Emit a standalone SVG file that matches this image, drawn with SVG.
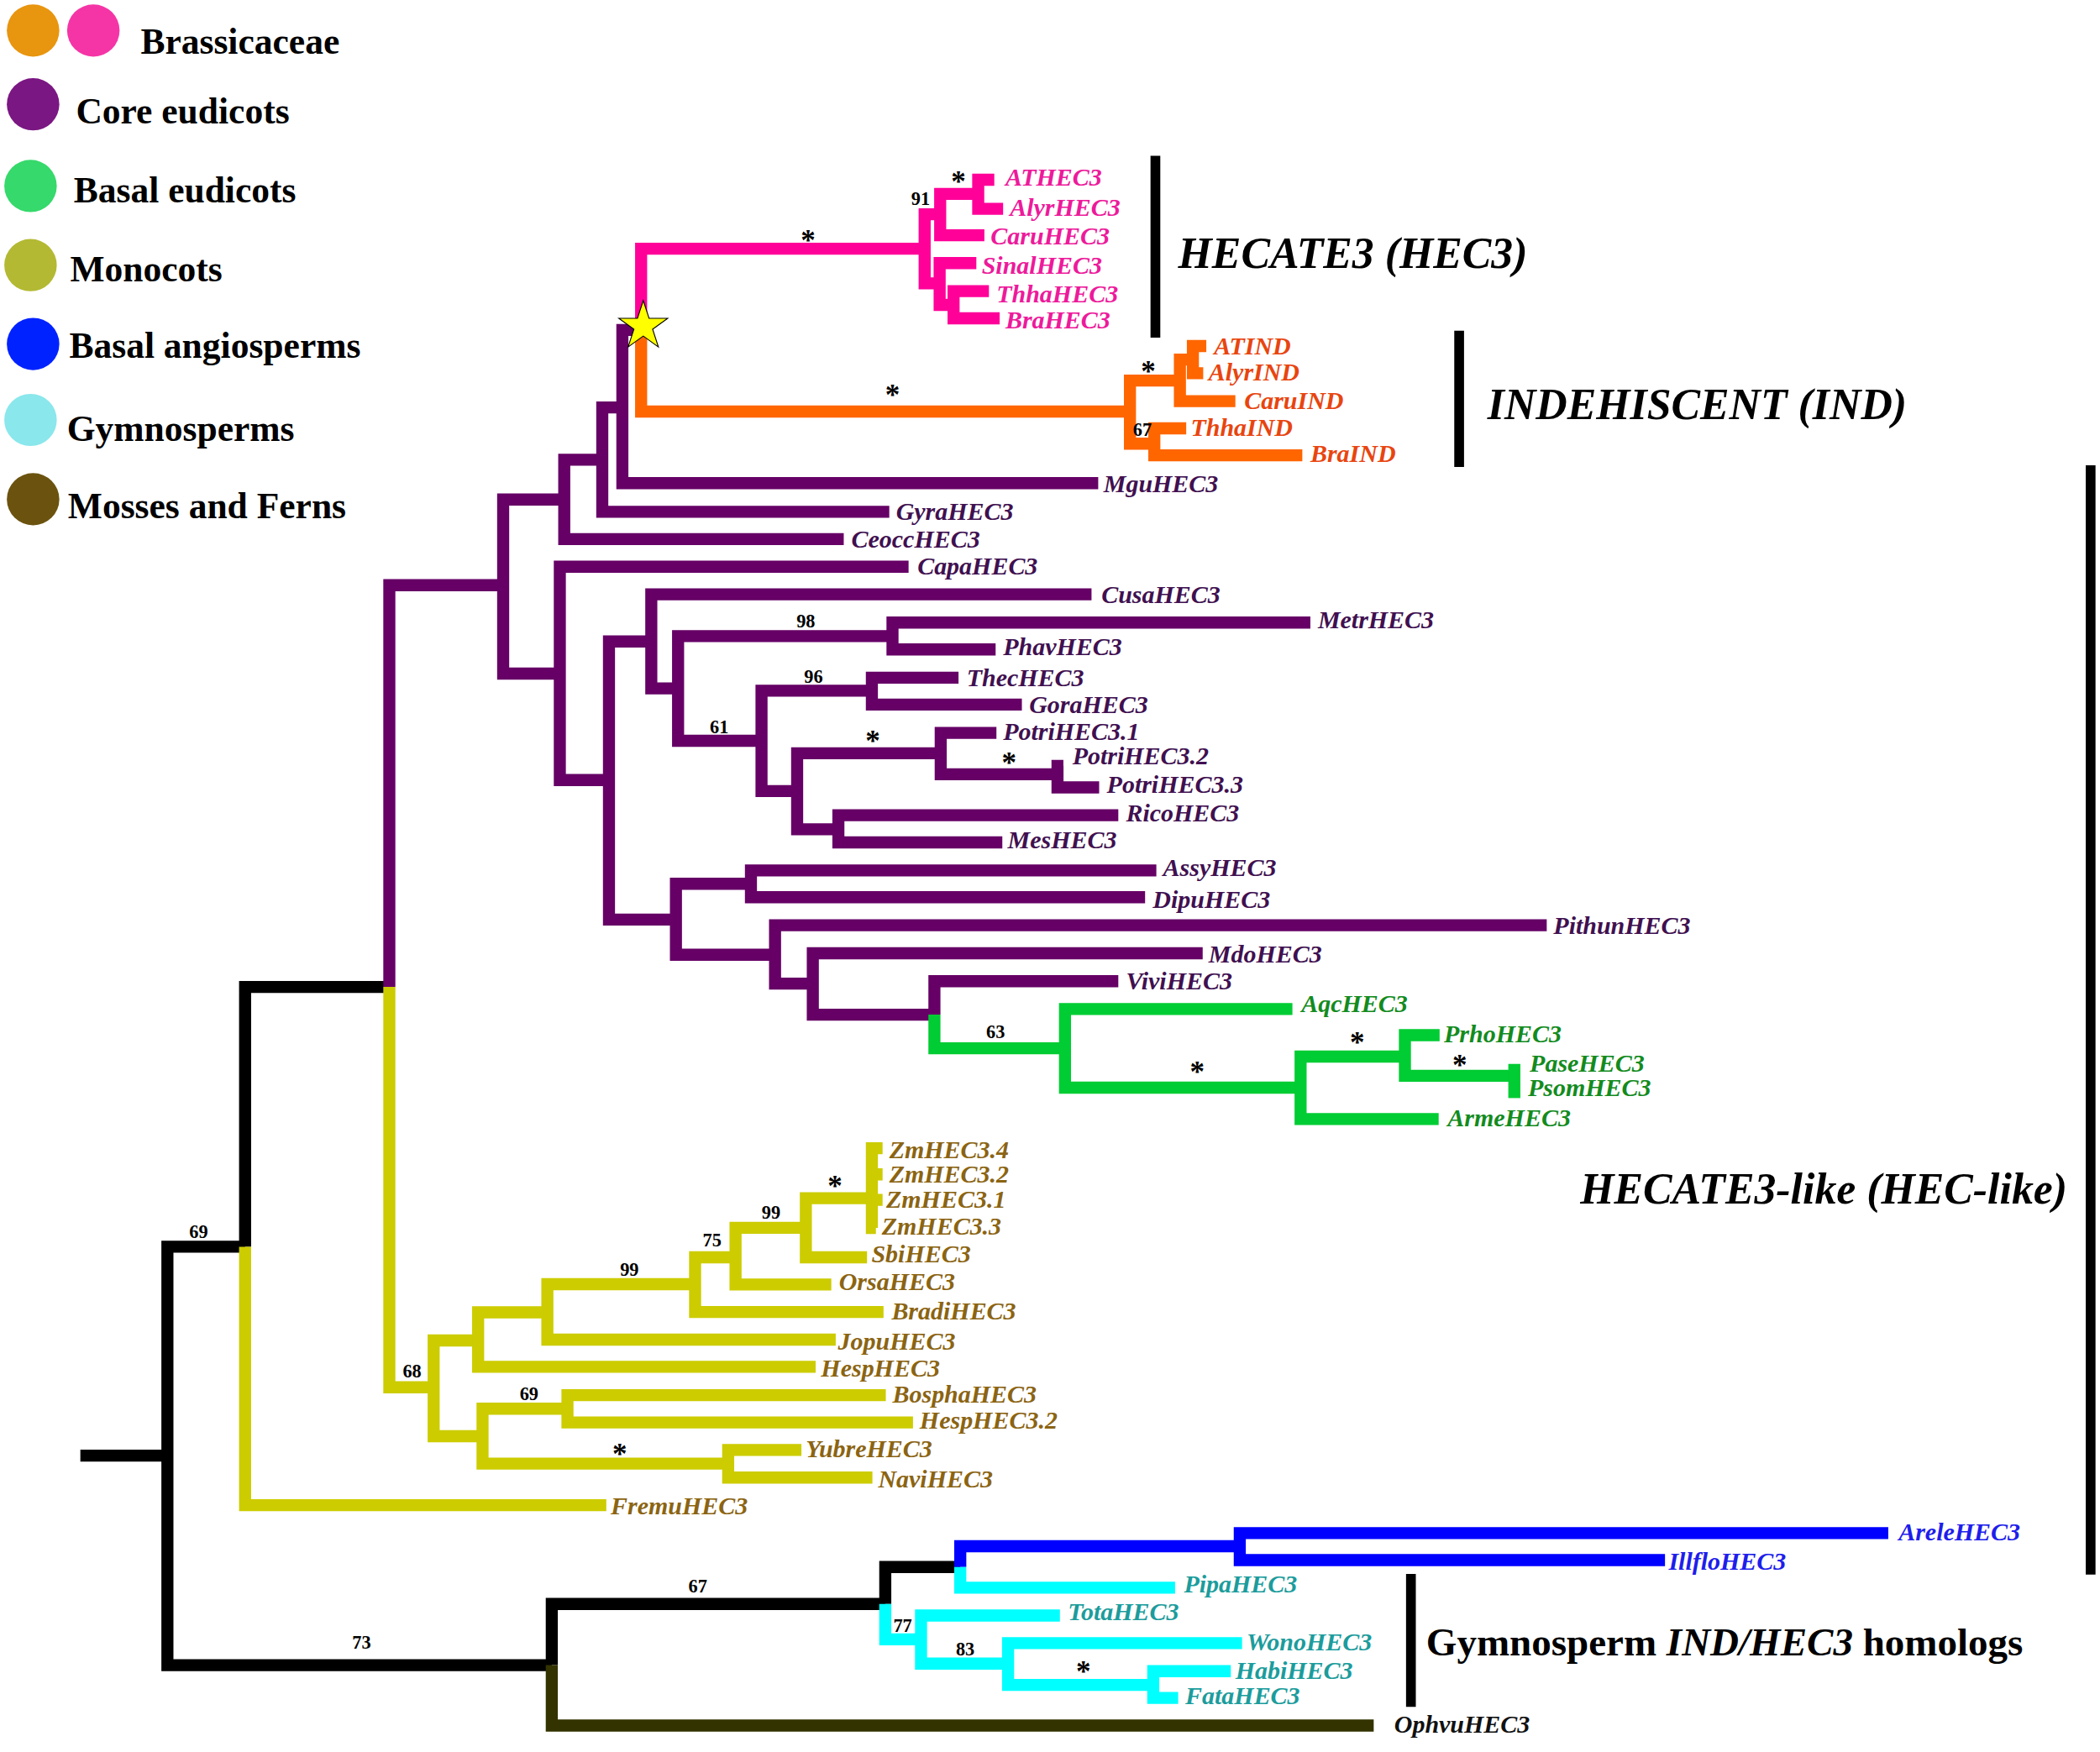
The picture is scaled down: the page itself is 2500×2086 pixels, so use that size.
<svg xmlns="http://www.w3.org/2000/svg" width="2500" height="2086" viewBox="0 0 2500 2086">
<style>
.b{fill:none;stroke-width:9;stroke-linejoin:miter;stroke-linecap:butt}
.pk{stroke:#FF0099}.or{stroke:#FF6600}.pu{stroke:#660066}.gr{stroke:#00CC33}.ol{stroke:#CCCC00}.bl{stroke:#0000FF}.cy{stroke:#00FFFF}.bk{stroke:#000}.br{stroke:#333300}
.br2{fill:none;stroke:#000;stroke-width:7.3}
text{font-family:"Liberation Serif","Times New Roman",serif;font-weight:bold}
.t{font-style:italic;font-size:18.8px}
.tpk{fill:#ED1A9B}.tor{fill:#E8450F}.tpu{fill:#401050}.tgr{fill:#138B1E}.tbr{fill:#8B6412}.tbl{fill:#1E1EEB}.tcy{fill:#1C9C9C}.tbk{fill:#111}
.s{font-size:14px;text-anchor:middle;fill:#000}
.a{font-size:22px;text-anchor:middle;fill:#000}
.lg{font-size:27.3px;fill:#000}
.cl{font-size:32.5px;font-style:italic;fill:#000}
</style>
<rect width="2500" height="2086" fill="#fff"/>
<g transform="scale(1.594388)">
<g id="legend">
<g id="leg-brassicaceae"><ellipse cx="24.7" cy="22.8" rx="19.6" ry="19.5" fill="#E8950F"/><ellipse cx="69.7" cy="22.8" rx="19.6" ry="19.5" fill="#F535A6"/><text class="lg" x="105" y="40.4">Brassicaceae</text></g>
<g id="leg-core"><ellipse cx="24.7" cy="77.9" rx="19.6" ry="19.5" fill="#7A1782"/><text class="lg" x="56.7" y="92.4">Core eudicots</text></g>
<g id="leg-basal-eud"><ellipse cx="22.8" cy="138.9" rx="19.6" ry="19.5" fill="#36D96B"/><text class="lg" x="55" y="150.9">Basal eudicots</text></g>
<g id="leg-mono"><ellipse cx="22.8" cy="198" rx="19.6" ry="19.5" fill="#B3B933"/><text class="lg" x="52.3" y="210.2">Monocots</text></g>
<g id="leg-basal-ang"><ellipse cx="24.7" cy="256.9" rx="19.6" ry="19.5" fill="#0022FF"/><text class="lg" x="51.7" y="267.3">Basal angiosperms</text></g>
<g id="leg-gymno"><ellipse cx="22.8" cy="313.6" rx="19.6" ry="19.5" fill="#8AE7EC"/><text class="lg" x="50" y="329.3">Gymnosperms</text></g>
<g id="leg-moss"><ellipse cx="24.7" cy="372.8" rx="19.6" ry="19.5" fill="#6B530F"/><text class="lg" x="50.7" y="387">Mosses and Ferns</text></g>
</g>
<g id="connectors">
<path class="b bk" d="M60 1087 H125"/>
<path class="b bk" d="M183 931 H125 V1243.5 H412"/>
<path class="b bk" d="M290.7 737 H183 V931"/>
<path class="b ol" d="M183 931 V1124 H452.7"/>
<path class="b pu" d="M375.7 437 H290.7 V737"/>
<path class="b ol" d="M290.7 737 V1036 H323.8"/>
<path class="b pu" d="M421.3 373 H375.7 V503 H418"/>
<path class="b pu" d="M449.7 343.3 H421.3 V402.6 H630"/>
<path class="b pu" d="M464.7 304.3 H449.7 V382.2 H664"/>
<path class="b pu" d="M478.7 246.4 H464.7 V360.8 H820"/>
<path class="b pk" d="M690.4 185.7 H478.7 V246.4"/>
<path class="b or" d="M478.7 246.4 V307.3 H843.7"/>
<path class="b pk" d="M702 160 H690.4 V211.6 H701.6"/>
<path class="b pk" d="M730.4 144.8 H702 V175.7 H735"/>
<path class="b pk" d="M742.4 134.2 H730.4 V155.9 H749"/>
<path class="b pk" d="M729 196.5 H701.6 V227.7 H712"/>
<path class="b pk" d="M738.4 217.4 H712 V237.7 H746.4"/>
<path class="b or" d="M881 284.2 H843.7 V331.3 H861.9"/>
<path class="b or" d="M890.7 268.5 H881 V299.6 H922.4"/>
<path class="b or" d="M900.7 258.4 H890.7 V278.7 H898.4"/>
<path class="b or" d="M885.7 319.9 H861.9 V340 H972.4"/>
<path class="b pu" d="M678.4 423.2 H418 V582.5 H454.7"/>
<path class="b pu" d="M486.3 479 H454.7 V686.7 H504.7"/>
<path class="b pu" d="M815 443.8 H486.3 V514.1 H506.3"/>
<path class="b pu" d="M666.4 475 H506.3 V553.2 H568.6"/>
<path class="b pu" d="M978.4 464.9 H666.4 V485 H743.4"/>
<path class="b pu" d="M651 515.8 H568.6 V590.7 H595.2"/>
<path class="b pu" d="M715.7 506.1 H651 V526.1 H763"/>
<path class="b pu" d="M702.4 562.5 H595.2 V619.3 H626"/>
<path class="b pu" d="M744 547.3 H702.4 V578.2 H789.6"/>
<path class="b pu" d="M794 572 H789.6 V588 H820.7"/>
<path class="b pu" d="M835 608.8 H626 V629.1 H748.4"/>
<path class="b pu" d="M560.7 660 H504.7 V713 H578.7"/>
<path class="b pu" d="M863.4 650 H560.7 V670 H855"/>
<path class="b pu" d="M1154.9 690.9 H578.7 V734.5 H606.9"/>
<path class="b pu" d="M898 711.9 H606.9 V757.7 H697.7"/>
<path class="b pu" d="M835 732.7 H697.7 V757.7"/>
<path class="b gr" d="M697.7 757.7 V782.8 H795.2"/>
<path class="b gr" d="M965 753.5 H795.2 V812.2 H971.1"/>
<path class="b gr" d="M1049 789 H971.1 V835.7 H1074.2"/>
<path class="b gr" d="M1074.9 773 H1049 V803.4 H1130"/>
<path class="b gr" d="M1130.7 794.5 V820"/>
<path class="b ol" d="M357 1001 H323.8 V1072.5 H360.3"/>
<path class="b ol" d="M408.7 980 H357 V1020.7 H609"/>
<path class="b ol" d="M519 959 H408.7 V1000.4 H624"/>
<path class="b ol" d="M549.2 938.9 H519 V979.8 H659.7"/>
<path class="b ol" d="M601.7 916.9 H549.2 V959.2 H620.7"/>
<path class="b ol" d="M650.7 894.8 H601.7 V938.9 H647.4"/>
<path class="b ol" d="M659 857.5 H651 V917 H654"/>
<path class="b ol" d="M651 877 H659 M651 896 H659"/>
<path class="b ol" d="M423.7 1052 H360.3 V1093 H543.7"/>
<path class="b ol" d="M661.4 1041.9 H423.7 V1062.2 H681.7"/>
<path class="b ol" d="M598.4 1082.8 H543.7 V1103.4 H651.4"/>
<path class="b bk" d="M661 1197.8 H412 V1243.5"/>
<path class="b br" d="M412 1243.5 V1288.6 H1025.7"/>
<path class="b bk" d="M717 1170.2 H661 V1197.8"/>
<path class="b cy" d="M661 1197.8 V1224.2 H687.7"/>
<path class="b bl" d="M925.7 1154.7 H717 V1170.2"/>
<path class="b cy" d="M717 1170.2 V1185.6 H877.4"/>
<path class="b bl" d="M1409.9 1144.9 H925.7 V1165 H1243.2"/>
<path class="b cy" d="M791.4 1206.4 H687.7 V1242.3 H752.7"/>
<path class="b cy" d="M927.4 1227 H752.7 V1258.2 H861.1"/>
<path class="b cy" d="M919 1248 H861.1 V1268 H879.7"/>
</g>
<g id="star"><polygon points="480.3,224.4 484.61,237.66 498.56,237.67 487.28,245.87 491.59,259.13 480.3,250.94 469.01,259.13 473.32,245.87 462.04,237.67 475.99,237.66" fill="#FFFF00" stroke="#000" stroke-width="0.7"/></g>
<g id="support">
<text class="a" x="603.4" y="186.6">*</text>
<text class="a" x="715.7" y="142.8">*</text>
<text class="s" x="687.4" y="153">91</text>
<text class="a" x="666.4" y="302.1">*</text>
<text class="a" x="857.4" y="284.8">*</text>
<text class="s" x="853" y="325.7">67</text>
<text class="s" x="601.7" y="468.7">98</text>
<text class="s" x="607.4" y="509.7">96</text>
<text class="s" x="537" y="547.3">61</text>
<text class="a" x="651.7" y="560.6">*</text>
<text class="a" x="753.4" y="577.1">*</text>
<text class="s" x="743.4" y="775">63</text>
<text class="a" x="894" y="808.1">*</text>
<text class="a" x="1013.4" y="786.1">*</text>
<text class="a" x="1089.9" y="802.9">*</text>
<text class="a" x="623.4" y="893.1">*</text>
<text class="s" x="575.7" y="910.2">99</text>
<text class="s" x="531.7" y="930.8">75</text>
<text class="s" x="470" y="953">99</text>
<text class="s" x="148.3" y="924.7">69</text>
<text class="s" x="307.7" y="1028.3">68</text>
<text class="s" x="395" y="1045.8">69</text>
<text class="a" x="462.7" y="1093.1">*</text>
<text class="s" x="521" y="1189.2">67</text>
<text class="s" x="270" y="1231">73</text>
<text class="s" x="674" y="1218.4">77</text>
<text class="s" x="720.7" y="1236.5">83</text>
<text class="a" x="809" y="1255.5">*</text>
</g>
<g id="tips">
<g id="ATHEC3"><text class="t tpk" x="750.7" y="138.6">ATHEC3</text></g>
<g id="AlyrHEC3"><text class="t tpk" x="754" y="160.9">AlyrHEC3</text></g>
<g id="CaruHEC3"><text class="t tpk" x="739.7" y="182.3">CaruHEC3</text></g>
<g id="SinalHEC3"><text class="t tpk" x="733" y="204.6">SinalHEC3</text></g>
<g id="ThhaHEC3"><text class="t tpk" x="744" y="225.5">ThhaHEC3</text></g>
<g id="BraHEC3"><text class="t tpk" x="750.7" y="245">BraHEC3</text></g>
<g id="ATIND"><text class="t tor" x="906.4" y="264.5">ATIND</text></g>
<g id="AlyrIND"><text class="t tor" x="902.4" y="284">AlyrIND</text></g>
<g id="CaruIND"><text class="t tor" x="929" y="305.7">CaruIND</text></g>
<g id="ThhaIND"><text class="t tor" x="889" y="325.7">ThhaIND</text></g>
<g id="BraIND"><text class="t tor" x="978.4" y="345.2">BraIND</text></g>
<g id="MguHEC3"><text class="t tpu" x="824" y="367.5">MguHEC3</text></g>
<g id="GyraHEC3"><text class="t tpu" x="669" y="388.4">GyraHEC3</text></g>
<g id="CeoccHEC3"><text class="t tpu" x="635.7" y="408.7">CeoccHEC3</text></g>
<g id="CapaHEC3"><text class="t tpu" x="685" y="428.7">CapaHEC3</text></g>
<g id="CusaHEC3"><text class="t tpu" x="822.4" y="450.4">CusaHEC3</text></g>
<g id="MetrHEC3"><text class="t tpu" x="984" y="469.3">MetrHEC3</text></g>
<g id="PhavHEC3"><text class="t tpu" x="749" y="489.4">PhavHEC3</text></g>
<g id="ThecHEC3"><text class="t tpu" x="721.7" y="512.5">ThecHEC3</text></g>
<g id="GoraHEC3"><text class="t tpu" x="768.4" y="532.8">GoraHEC3</text></g>
<g id="PotriHEC3.1"><text class="t tpu" x="749" y="552.8">PotriHEC3.1</text></g>
<g id="PotriHEC3.2"><text class="t tpu" x="800.7" y="570.9">PotriHEC3.2</text></g>
<g id="PotriHEC3.3"><text class="t tpu" x="826.4" y="591.8">PotriHEC3.3</text></g>
<g id="RicoHEC3"><text class="t tpu" x="840.7" y="613.5">RicoHEC3</text></g>
<g id="MesHEC3"><text class="t tpu" x="752.4" y="633.6">MesHEC3</text></g>
<g id="AssyHEC3"><text class="t tpu" x="868.4" y="654.4">AssyHEC3</text></g>
<g id="DipuHEC3"><text class="t tpu" x="860.7" y="678.1">DipuHEC3</text></g>
<g id="PithunHEC3"><text class="t tpu" x="1159.9" y="697.6">PithunHEC3</text></g>
<g id="MdoHEC3"><text class="t tpu" x="902.4" y="718.5">MdoHEC3</text></g>
<g id="ViviHEC3"><text class="t tpu" x="840.7" y="738.8">ViviHEC3</text></g>
<g id="AqcHEC3"><text class="t tgr" x="971.7" y="755.5">AqcHEC3</text></g>
<g id="PrhoHEC3"><text class="t tgr" x="1078.2" y="778.3">PrhoHEC3</text></g>
<g id="PaseHEC3"><text class="t tgr" x="1142.2" y="800.6">PaseHEC3</text></g>
<g id="PsomHEC3"><text class="t tgr" x="1140.9" y="818.7">PsomHEC3</text></g>
<g id="ArmeHEC3"><text class="t tgr" x="1080.9" y="841">ArmeHEC3</text></g>
<g id="ZmHEC3.4"><text class="t tbr" x="664" y="864.6">ZmHEC3.4</text></g>
<g id="ZmHEC3.2"><text class="t tbr" x="664" y="883">ZmHEC3.2</text></g>
<g id="ZmHEC3.1"><text class="t tbr" x="661.7" y="901.9">ZmHEC3.1</text></g>
<g id="ZmHEC3.3"><text class="t tbr" x="658.4" y="921.9">ZmHEC3.3</text></g>
<g id="SbiHEC3"><text class="t tbr" x="650.7" y="942.8">SbiHEC3</text></g>
<g id="OrsaHEC3"><text class="t tbr" x="626.4" y="963.1">OrsaHEC3</text></g>
<g id="BradiHEC3"><text class="t tbr" x="665.7" y="985.4">BradiHEC3</text></g>
<g id="JopuHEC3"><text class="t tbr" x="625.7" y="1007.7">JopuHEC3</text></g>
<g id="HespHEC3"><text class="t tbr" x="613" y="1027.7">HespHEC3</text></g>
<g id="BosphaHEC3"><text class="t tbr" x="666.4" y="1047.7">BosphaHEC3</text></g>
<g id="HespHEC3.2"><text class="t tbr" x="686.7" y="1066.7">HespHEC3.2</text></g>
<g id="YubreHEC3"><text class="t tbr" x="601.7" y="1088.4">YubreHEC3</text></g>
<g id="NaviHEC3"><text class="t tbr" x="655.7" y="1110.7">NaviHEC3</text></g>
<g id="FremuHEC3"><text class="t tbr" x="456" y="1130.7">FremuHEC3</text></g>
<g id="AreleHEC3"><text class="t tbl" x="1417.6" y="1150.2">AreleHEC3</text></g>
<g id="IllfloHEC3"><text class="t tbl" x="1245.9" y="1172.5">IllfloHEC3</text></g>
<g id="PipaHEC3"><text class="t tcy" x="884" y="1189.2">PipaHEC3</text></g>
<g id="TotaHEC3"><text class="t tcy" x="797.4" y="1210.1">TotaHEC3</text></g>
<g id="WonoHEC3"><text class="t tcy" x="930.7" y="1232.3">WonoHEC3</text></g>
<g id="HabiHEC3"><text class="t tcy" x="922.4" y="1253.8">HabiHEC3</text></g>
<g id="FataHEC3"><text class="t tcy" x="885" y="1272.7">FataHEC3</text></g>
<g id="OphvuHEC3"><text class="t tbk" x="1041" y="1293.6">OphvuHEC3</text></g>
</g>
<g id="clades">
<g id="clade-HEC3"><path class="br2" d="M862.7 116.4 V252.2"/><text class="cl" x="879.7" y="199.9">HECATE3 (HEC3)</text></g>
<g id="clade-IND"><path class="br2" d="M1089.5 247 V348.8"/><text class="cl" x="1110.6" y="313.2">INDEHISCENT (IND)</text></g>
<g id="clade-HEClike"><path class="br2" d="M1561 347.4 V1175.8"/><text class="cl" x="1179.9" y="898.8">HECATE3-like (HEC-like)</text></g>
<g id="clade-gymno"><path class="br2" d="M1053.5 1175.3 V1274.6"/><text style="font-size:29.5px;fill:#000" x="1064.9" y="1236.5">Gymnosperm <tspan font-style="italic">IND/HEC3</tspan> homologs</text></g>
</g>
</g>
</svg>
